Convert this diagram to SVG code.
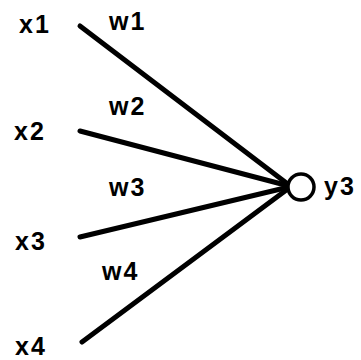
<svg xmlns="http://www.w3.org/2000/svg" width="361" height="360" viewBox="0 0 361 360">
<style>
text{font-family:"Liberation Sans",Arial,sans-serif;font-weight:bold;font-size:25px;fill:#000;letter-spacing:2px}
.edge{stroke:#000;stroke-width:5;stroke-linecap:round;fill:none}
</style>
<rect width="361" height="360" fill="#fff"/>
<g id="connectors">
<line class="edge" x1="80" y1="26" x2="289" y2="185"/>
<line class="edge" x1="80" y1="131" x2="289" y2="186"/>
<line class="edge" x1="80" y1="237" x2="289" y2="187"/>
<line class="edge" x1="82" y1="342" x2="289" y2="188"/>
</g>
<g id="x1"><text x="19" y="33">x1</text></g>
<g id="x2"><text x="14" y="140">x2</text></g>
<g id="x3"><text x="15" y="250">x3</text></g>
<g id="x4"><text x="15" y="355">x4</text></g>
<g id="w1"><text x="109" y="30">w1</text></g>
<g id="w2"><text x="109" y="115">w2</text></g>
<g id="w3"><text x="109" y="196">w3</text></g>
<g id="w4"><text x="102" y="280">w4</text></g>
<g id="y3">
<circle cx="301" cy="187" r="13" fill="#fff" stroke="#000" stroke-width="3.5"/>
<text x="324" y="195">y3</text>
</g>
</svg>
